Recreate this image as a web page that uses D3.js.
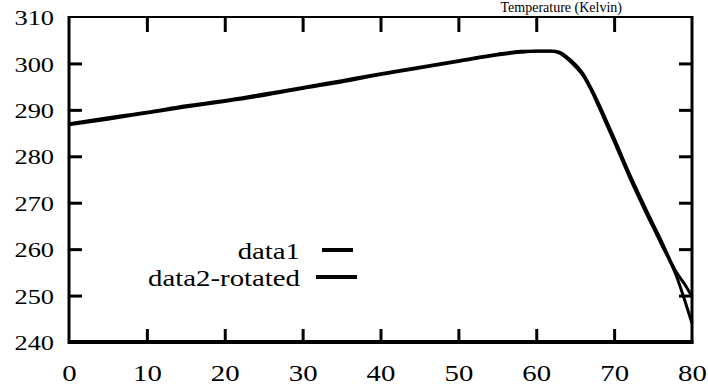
<!DOCTYPE html>
<html>
<head>
<meta charset="utf-8">
<script src="https://cdn.jsdelivr.net/npm/d3@7"></script>
<style>
  html, body { margin: 0; padding: 0; background: #fff; }
  svg { display: block; }
</style>
</head>
<body>
<svg id="chart" width="708" height="385"></svg>
<script>
// ---- data ----
const xTicks = [0, 10, 20, 30, 40, 50, 60, 70, 80];
const yTicks = [240, 250, 260, 270, 280, 290, 300, 310];
const seriesNames = ["data1", "data2-rotated"];
const data1X = [0, 5, 10, 15, 20, 25, 30, 35, 40, 45, 50, 55, 58, 60, 62, 63, 64, 65, 66, 67, 68, 69, 70, 72, 74, 76, 78, 79, 80];
const data1Y = [286.8, 288.0, 289.3, 290.6, 291.8, 293.1, 294.6, 296.0, 297.6, 299.0, 300.4, 301.8, 302.4, 302.6, 302.6, 302.2, 301.0, 299.4, 297.4, 294.4, 290.8, 287.0, 283.2, 275.4, 268.2, 261.3, 254.2, 249.3, 244.0];
const data2X = [0, 5, 10, 15, 20, 25, 30, 35, 40, 45, 50, 55, 58, 60, 62, 63, 64, 65, 66, 67, 68, 69, 70, 72, 74, 76, 78, 79, 80];
const data2Y = [287.0, 288.3, 289.5, 290.9, 292.0, 293.4, 294.8, 296.3, 297.8, 299.2, 300.6, 302.0, 302.6, 302.7, 302.7, 302.4, 301.3, 299.8, 297.8, 294.8, 291.4, 287.7, 283.9, 276.1, 268.9, 262.0, 255.0, 252.6, 249.8];
const titleText = "Temperature (Kelvin)";

const FONT = "Liberation Serif, serif";
const SX = 1.2; // horizontal stretch of text seen in the reference

// ---- layout ----
const svg = d3.select("#chart");
const L = 69, R = 692, T = 17, B = 342;
const x = d3.scaleLinear().domain([0, 80]).range([L, R]);
const y = d3.scaleLinear().domain([240, 310]).range([B, T]);

// small title above the frame
svg.append("text").attr("x", 622).attr("y", 12)
  .attr("text-anchor", "end").attr("font-family", FONT).attr("font-size", 14)
  .text(titleText);

// data lines
const line = d3.line().x(d => x(d[0])).y(d => y(d[1])).curve(d3.curveMonotoneX);
const s1 = data1X.map((v, i) => [v, data1Y[i]]);
const s2 = data2X.map((v, i) => [v, data2Y[i]]);
[s1, s2].forEach(s => {
  svg.append("path").datum(s).attr("d", line)
    .attr("fill", "none").attr("stroke", "#000").attr("stroke-width", 3).attr("stroke-linejoin", "round");
});

// frame
const frame = svg.append("g");
frame.append("line").attr("x1", L).attr("x2", R).attr("y1", T).attr("y2", T).attr("stroke", "#000").attr("stroke-width", 2);
frame.append("line").attr("x1", L).attr("x2", R + 1.5).attr("y1", B).attr("y2", B).attr("stroke", "#000").attr("stroke-width", 4);
frame.append("line").attr("x1", L).attr("x2", L).attr("y1", T - 1).attr("y2", B + 2).attr("stroke", "#000").attr("stroke-width", 3);
frame.append("line").attr("x1", R).attr("x2", R).attr("y1", T - 1).attr("y2", B + 2).attr("stroke", "#000").attr("stroke-width", 3);

// axes via d3 axis generators (inward ticks)
const tickLen = 13;
const inner = xTicks.slice(1, -1);
const innerY = yTicks.slice(1, -1);
function styleAxis(g) {
  g.select(".domain").remove();
  g.selectAll(".tick line").attr("stroke", "#000").attr("stroke-width", 3);
}
// bottom labels
svg.append("g").attr("transform", `translate(0,${B})`)
  .call(d3.axisBottom(x).tickValues(xTicks).tickSize(0).tickPadding(0).tickFormat(d3.format("d")))
  .call(g => {
    g.attr("font-family", FONT).attr("font-size", 24);
    g.select(".domain").remove();
    g.selectAll(".tick text").attr("y", 39).attr("dy", 0)
      .attr("transform", `scale(${SX},1)`);
  });
svg.append("g").attr("transform", `translate(0,${B})`)
  .call(d3.axisTop(x).tickValues(inner).tickSize(tickLen).tickFormat(""))
  .call(styleAxis);
svg.append("g").attr("transform", `translate(0,${T})`)
  .call(d3.axisBottom(x).tickValues(inner).tickSize(tickLen + 2).tickFormat(""))
  .call(styleAxis);
// left labels
svg.append("g").attr("transform", `translate(${L},0)`)
  .call(d3.axisLeft(y).tickValues(yTicks).tickSize(0).tickPadding(0).tickFormat(d3.format("d")))
  .call(g => {
    g.attr("font-family", FONT).attr("font-size", 22);
    g.select(".domain").remove();
    g.selectAll(".tick text").attr("x", -15 / SX).attr("dy", "0.35em")
      .attr("transform", `scale(${SX},1)`);
  });
svg.append("g").attr("transform", `translate(${L},0)`)
  .call(d3.axisRight(y).tickValues(innerY).tickSize(tickLen).tickFormat(""))
  .call(styleAxis);
svg.append("g").attr("transform", `translate(${R},0)`)
  .call(d3.axisLeft(y).tickValues(innerY).tickSize(tickLen).tickFormat(""))
  .call(styleAxis);

// legend
const legend = [
  { name: seriesNames[0], ty: 259, ly: 250, x1: 322, x2: 353 },
  { name: seriesNames[1], ty: 286, ly: 277, x1: 316, x2: 357 }
];
legend.forEach(d => {
  svg.append("text").attr("x", 300 / SX).attr("y", d.ty).attr("text-anchor", "end")
    .attr("transform", `scale(${SX},1)`)
    .attr("font-family", FONT).attr("font-size", 24)
    .text(d.name);
  svg.append("line").attr("x1", d.x1).attr("x2", d.x2).attr("y1", d.ly).attr("y2", d.ly)
    .attr("stroke", "#000").attr("stroke-width", 4);
});
</script>
</body>
</html>
